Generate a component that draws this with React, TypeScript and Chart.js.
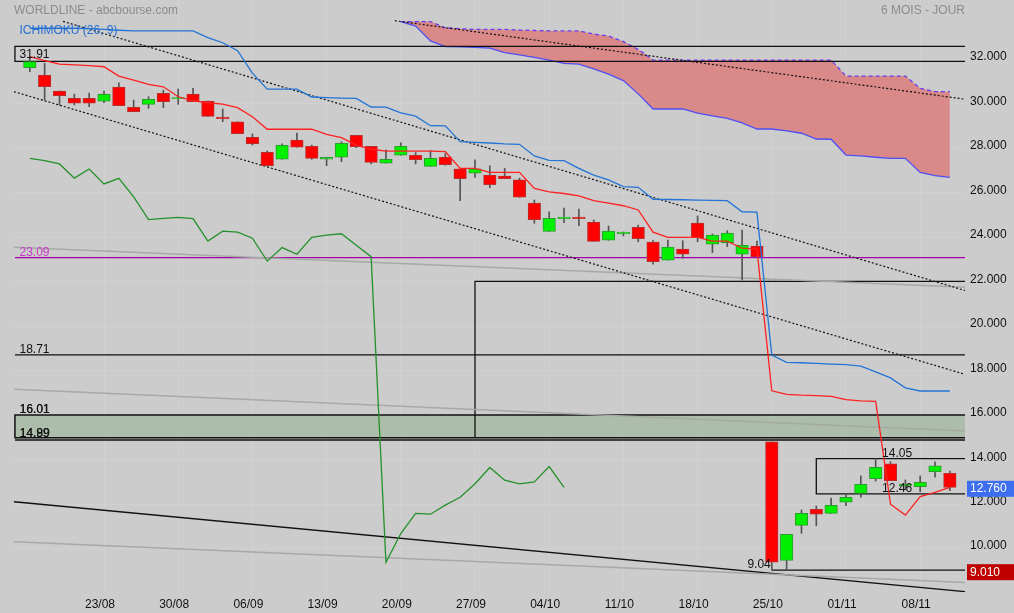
import React, { useEffect, useRef } from 'react';
import { Chart, registerables } from 'chart.js';
Chart.register(...registerables);

// ---------- data ----------
const DATE_LABELS = ['23/08', '30/08', '06/09', '13/09', '20/09', '27/09', '04/10', '11/10', '18/10', '25/10', '01/11', '08/11'];
const DATE_TICK_INDEX = [5, 10, 15, 20, 25, 30, 35, 40, 45, 50, 55, 60];
const PRICE_TICKS = [10, 12, 14, 16, 18, 20, 22, 24, 26, 28, 30, 32];

const OPEN = [31.63, 31.30, 30.58, 30.25, 30.25, 30.12, 30.75, 29.85, 29.98, 30.48, 30.23, 30.44, 30.13, 29.41, 29.19, 28.50, 27.82, 27.51, 28.37, 28.09, 27.51, 27.60, 28.59, 28.09, 27.33, 27.69, 27.69, 27.19, 27.61, 27.08, 26.88, 26.80, 26.75, 26.58, 25.54, 24.27, 24.84, 24.91, 24.68, 23.87, 24.16, 24.45, 23.79, 22.97, 23.47, 24.64, 23.69, 23.76, 23.24, 23.61, 14.80, 9.47, 11.05, 11.77, 11.59, 12.09, 12.49, 13.15, 13.81, 12.82, 12.79, 13.46, 13.39];
const HIGH = [32.09, 31.82, 30.58, 30.44, 30.49, 30.58, 30.95, 30.17, 30.32, 30.62, 30.67, 30.70, 30.13, 29.77, 29.19, 28.65, 27.88, 28.20, 28.69, 28.15, 27.60, 28.30, 28.59, 28.09, 27.93, 28.25, 27.81, 27.89, 27.76, 27.08, 27.48, 27.21, 27.10, 26.66, 25.68, 25.15, 25.32, 25.27, 24.78, 24.51, 24.24, 24.55, 23.85, 23.88, 23.85, 24.96, 24.15, 24.30, 24.33, 23.83, 14.80, 10.65, 11.74, 11.92, 12.27, 12.46, 13.27, 14.05, 13.91, 13.09, 13.27, 13.91, 13.49];
const LOW = [31.45, 30.17, 29.95, 29.95, 29.87, 30.05, 29.92, 29.65, 29.80, 29.83, 29.98, 30.10, 29.44, 29.20, 28.66, 28.15, 27.22, 27.51, 28.05, 27.51, 27.22, 27.40, 28.03, 27.30, 27.33, 27.69, 27.30, 27.19, 27.24, 25.65, 26.69, 26.23, 26.64, 25.80, 24.63, 24.27, 24.66, 24.52, 23.82, 23.87, 24.06, 23.80, 22.79, 22.97, 23.06, 23.80, 23.31, 23.58, 22.08, 23.13, 9.04, 9.07, 10.69, 11.03, 11.59, 11.93, 12.31, 13.04, 13.06, 12.64, 12.56, 13.21, 12.61];
const CLOSE = [31.90, 30.77, 30.37, 30.03, 30.03, 30.43, 29.92, 29.65, 30.21, 30.10, 30.28, 30.10, 29.44, 29.33, 28.66, 28.21, 27.22, 28.14, 28.05, 27.55, 27.60, 28.23, 28.08, 27.37, 27.51, 28.09, 27.49, 27.55, 27.27, 26.64, 27.08, 26.37, 26.64, 25.80, 24.79, 24.85, 24.91, 24.84, 23.82, 24.28, 24.24, 23.94, 22.90, 23.56, 23.24, 23.98, 24.10, 24.19, 23.64, 23.13, 9.39, 10.65, 11.59, 11.55, 11.95, 12.31, 12.89, 13.66, 13.06, 12.91, 12.98, 13.72, 12.76];

const TENKAN = [32.12, 31.95, 31.79, 31.75, 31.72, 31.67, 31.25, 31.07, 30.88, 30.77, 30.32, 30.14, 30.05, 29.99, 29.83, 29.42, 28.86, 28.86, 28.86, 28.86, 28.63, 28.48, 28.15, 27.96, 27.88, 27.88, 27.88, 27.88, 27.85, 27.10, 27.10, 26.92, 26.92, 26.92, 26.20, 26.04, 25.97, 25.86, 25.65, 25.54, 25.42, 25.23, 24.23, 24.00, 24.00, 24.00, 23.83, 23.83, 23.51, 23.47, 17.10, 16.94, 16.90, 16.88, 16.85, 16.70, 16.65, 16.62, 12.00, 11.51, 12.34, 12.53, 12.76];
const KIJUN = [33.40, 33.40, 33.40, 33.40, 33.38, 33.35, 33.31, 33.28, 33.28, 33.28, 33.28, 33.28, 32.98, 32.75, 32.39, 31.38, 30.66, 30.66, 30.66, 30.31, 30.28, 30.26, 30.25, 29.86, 29.85, 29.60, 29.45, 29.02, 29.01, 28.30, 28.27, 28.24, 28.20, 28.18, 27.66, 27.46, 27.45, 27.10, 26.80, 26.58, 26.28, 26.25, 25.71, 25.70, 25.69, 25.67, 25.66, 25.65, 25.15, 25.13, 18.71, 18.38, 18.36, 18.33, 18.30, 18.28, 18.21, 17.95, 17.68, 17.23, 17.09, 17.09, 17.09];
const CHIKOU = [27.55, 27.45, 27.30, 26.66, 27.07, 26.40, 26.65, 25.82, 24.80, 24.85, 24.90, 24.84, 23.83, 24.28, 24.23, 23.96, 22.93, 23.54, 23.24, 24.00, 24.10, 24.16, 23.64, 23.13, 9.39, 10.68, 11.59, 11.55, 11.96, 12.31, 12.92, 13.65, 13.08, 12.91, 13.00, 13.69, 12.76];
const CLOUD_START = 25;
const SPAN_A = [33.70, 33.70, 33.70, 33.42, 33.38, 33.35, 33.35, 33.35, 33.32, 33.30, 33.28, 33.28, 33.28, 33.14, 33.05, 32.80, 32.45, 31.97, 31.97, 31.97, 31.97, 31.97, 31.97, 31.97, 31.97, 31.97, 31.97, 31.97, 31.97, 31.97, 31.25, 31.25, 31.25, 31.25, 31.25, 30.70, 30.55, 30.55];
const SPAN_B = [33.70, 33.50, 32.83, 32.57, 32.56, 32.54, 32.51, 32.30, 32.20, 32.09, 31.97, 31.82, 31.79, 31.57, 31.34, 31.05, 30.45, 29.77, 29.77, 29.77, 29.58, 29.46, 29.35, 29.15, 28.87, 28.87, 28.79, 28.68, 28.42, 28.41, 27.70, 27.66, 27.60, 27.55, 27.55, 26.92, 26.77, 26.70];

// trend lines: [startIndex, startValue, endIndex, endValue]
const CHANNEL_UPPER = [2.24, 33.71, 63.02, 21.61];
const CHANNEL_LOWER = [-1.065, 30.55, 63.02, 17.84];
const CLOUD_TREND = [24.6, 33.74, 63.02, 30.21];
const LONG_GRAY_1 = [-1.065, 23.55, 63.02, 21.76];
const LONG_GRAY_2 = [-1.065, 17.17, 63.02, 15.29];
const LONG_GRAY_3 = [-1.065, 10.31, 63.02, 8.48];
const LONG_BLACK = [-1.065, 12.11, 63.02, 8.07];

// levels
const BOX_TOP = [31.91, 32.59];
const LEVEL_PURPLE = 23.09;
const LEVEL_1871 = 18.71;
const ZONE = [14.99, 16.01];
const ZONE_LOW_2 = 14.89;
const RANGE_BOX = [30, 22.02];
const RECENT_BOX = [53, 12.46, 14.05];
const LOW_LEVEL = [50, 9.04];
const LAST_PRICE = 12.76;
const BADGE_LOW = 9.01;

// ---------- layout constants ----------
const XMIN = -1.065, XMAX = 63.02, YMIN = 8.052, YMAX = 34.671;
const XL = -1.0;
const FONT = '"Liberation Sans", Arial, sans-serif';

const pts = (xs: number[], ys: number[]) => xs.map((x, i) => ({ x, y: ys[i] }));
const seg = (t: number[]) => [{ x: t[0], y: t[1] }, { x: t[2], y: t[3] }];

function lineDs(data: any[], color: string, width: number, order: number, extra: any = {}) {
  return {
    type: 'line', data, borderColor: color, borderWidth: width, pointRadius: 0,
    tension: 0, fill: false, order, ...extra,
  };
}

const zeroPad = (s: any) => { s.paddingTop = 0; s.paddingBottom = 0; s.paddingLeft = 0; s.paddingRight = 0; };

const annotPlugin = {
  id: 'annot',
  afterDatasetsDraw(chart: any) {
    const { ctx } = chart;
    const x = chart.scales.x, y = chart.scales.y;
    ctx.save();
    ctx.font = '12px ' + FONT;
    ctx.textBaseline = 'alphabetic';
    const put = (text: string, px: number, py: number, color: string, align: any = 'left') => {
      ctx.fillStyle = color; ctx.textAlign = align; ctx.fillText(text, px, py);
    };
    put('31.91', 19.5, y.getPixelForValue(BOX_TOP[0]) - 3.8, '#111');
    put('23.09', 19.5, y.getPixelForValue(LEVEL_PURPLE) - 2, '#c838c8');
    put('18.71', 19.5, y.getPixelForValue(LEVEL_1871) - 2, '#111');
    put('16.01', 19.5, y.getPixelForValue(ZONE[1]) - 2, '#111');
    put('16.01', 19.8, y.getPixelForValue(ZONE[1]) - 2, '#111');
    put('14.99', 19.5, y.getPixelForValue(ZONE[0]) - 0.7, '#111');
    put('14.89', 19.8, y.getPixelForValue(ZONE[0]) - 0.7, '#111');
    put('14.05', x.getPixelForValue(57.43), y.getPixelForValue(RECENT_BOX[2]) - 2, '#111');
    put('12.46', x.getPixelForValue(57.43), y.getPixelForValue(RECENT_BOX[1]) - 2, '#111');
    put('9.04', x.getPixelForValue(LOW_LEVEL[0]) - 1, y.getPixelForValue(LOW_LEVEL[1]) - 2, '#111', 'right');
    // headers
    ctx.textBaseline = 'middle';
    put('WORLDLINE - abcbourse.com', 14, 10.5, '#8c8c8c');
    put('6 MOIS - JOUR', 965, 10.5, '#8c8c8c', 'right');
    put('ICHIMOKU (26, 9)', 19.5, 30.5, '#2a6fd0');
    ctx.restore();
  },
  afterDraw(chart: any) {
    const { ctx } = chart;
    const y = chart.scales.y;
    ctx.save();
    ctx.font = '12px ' + FONT;
    ctx.textBaseline = 'middle';
    ctx.textAlign = 'left';
    const badge = (text: string, v: number, bg: string) => {
      const py = y.getPixelForValue(v) + 1.5;
      ctx.fillStyle = bg;
      ctx.fillRect(967, py - 8, 47, 16);
      ctx.fillStyle = '#ffffff';
      ctx.fillText(text, 970, py);
    };
    badge(LAST_PRICE.toFixed(3), LAST_PRICE, '#3d6ef0');
    badge(BADGE_LOW.toFixed(3), BADGE_LOW, '#bf0000');
    ctx.restore();
  },
};

export default function App() {
  const ref = useRef<HTMLCanvasElement | null>(null);
  useEffect(() => {
    if (!ref.current) return;
    const idx = OPEN.map((_, i) => i);
    const up = OPEN.map((o, i) => CLOSE[i] >= o);
    const bodies = idx.map(i => ({ x: i, y: [OPEN[i], CLOSE[i]] }));
    const wicks = idx.map(i => ({ x: i, y: [LOW[i], HIGH[i]] }));
    const cloudX = SPAN_A.map((_, i) => CLOUD_START + i);
    const chikouX = CHIKOU.map((_, i) => i);
    const black = '#111111';
    const grayLine = '#a3aba3';

    const datasets: any[] = [
      lineDs(pts(chikouX, CHIKOU), '#24912a', 1.3, 1),
      lineDs(pts(idx, TENKAN), '#ff2020', 1.3, 2),
      lineDs(pts(idx, KIJUN), '#2274d6', 1.3, 3),
      {
        type: 'bar', data: bodies, order: 4, grouped: false, barThickness: 12.5,
        backgroundColor: up.map(u => (u ? '#00f000' : '#ff0000')),
        borderColor: up.map(u => (u ? '#2f9a2f' : '#b83030')),
        borderWidth: 1, borderSkipped: false,
      },
      {
        type: 'bar', data: wicks, order: 5, grouped: false, barThickness: 1,
        backgroundColor: '#555555', borderWidth: 0,
      },
      lineDs(seg(CHANNEL_UPPER), black, 1.2, 8, { borderDash: [2, 2] }),
      lineDs(seg(CHANNEL_LOWER), black, 1.2, 8, { borderDash: [2, 2] }),
      lineDs(seg(CLOUD_TREND), black, 1.2, 8, { borderDash: [2, 2] }),
      lineDs(seg(LONG_GRAY_1), grayLine, 1.5, 9),
      lineDs(seg(LONG_GRAY_2), grayLine, 1.5, 9),
      lineDs(seg(LONG_GRAY_3), grayLine, 1.5, 9),
      lineDs(seg(LONG_BLACK), black, 1.4, 9),
      lineDs([{ x: XMAX, y: BOX_TOP[1] }, { x: XL, y: BOX_TOP[1] }, { x: XL, y: BOX_TOP[0] }, { x: XMAX, y: BOX_TOP[0] }], black, 1.3, 10),
      lineDs([{ x: XL, y: LEVEL_PURPLE }, { x: XMAX, y: LEVEL_PURPLE }], '#a800a8', 1.3, 10),
      lineDs([{ x: XL, y: LEVEL_1871 }, { x: XMAX, y: LEVEL_1871 }], black, 1.3, 10),
      lineDs([{ x: XMAX, y: ZONE[1] }, { x: XL, y: ZONE[1] }, { x: XL, y: ZONE[0] }, { x: XMAX, y: ZONE[0] }], black, 1.5, 10),
      lineDs([{ x: XL, y: ZONE_LOW_2 }, { x: XMAX, y: ZONE_LOW_2 }], black, 1.5, 10),
      lineDs([{ x: XMAX, y: RANGE_BOX[1] }, { x: RANGE_BOX[0], y: RANGE_BOX[1] }, { x: RANGE_BOX[0], y: ZONE[0] }], black, 1.3, 10),
      lineDs([{ x: XMAX, y: RECENT_BOX[2] }, { x: RECENT_BOX[0], y: RECENT_BOX[2] }, { x: RECENT_BOX[0], y: RECENT_BOX[1] }, { x: XMAX, y: RECENT_BOX[1] }], black, 1.3, 10),
      lineDs([{ x: LOW_LEVEL[0], y: LOW_LEVEL[1] }, { x: XMAX, y: LOW_LEVEL[1] }], black, 1.3, 10),
      // cloud
      lineDs(pts(cloudX, SPAN_A), '#6a3df0', 1.3, 30, { borderDash: [4, 3], fill: '+1', backgroundColor: 'rgba(226,96,96,0.62)' }),
      lineDs(pts(cloudX, SPAN_B), '#4f4ff5', 1.3, 29),
      // zone fill
      lineDs([{ x: XMIN, y: ZONE[1] }, { x: XMAX, y: ZONE[1] }], 'rgba(0,0,0,0)', 0, 40, { fill: '+1', backgroundColor: 'rgba(115,161,110,0.35)' }),
      lineDs([{ x: XMIN, y: ZONE[0] }, { x: XMAX, y: ZONE[0] }], 'rgba(0,0,0,0)', 0, 39),
    ];

    const chart = new Chart(ref.current, {
      type: 'line',
      data: { datasets },
      options: {
        responsive: false,
        animation: false,
        devicePixelRatio: 1,
        layout: { padding: { left: 14, top: 0, right: 0, bottom: 0 } },
        plugins: { legend: { display: false }, tooltip: { enabled: false } },
        scales: {
          x: {
            type: 'linear', min: XMIN, max: XMAX, offset: false,
            grid: { color: 'rgba(255,255,255,0.1)', drawTicks: false, offset: false },
            border: { display: false },
            afterBuildTicks: (s: any) => { s.ticks = DATE_TICK_INDEX.map(v => ({ value: v })); },
            afterFit: (s: any) => { s.height = 21; zeroPad(s); },
            ticks: {
              padding: 5, labelOffset: -4, color: '#111', maxRotation: 0, autoSkip: false,
              font: { size: 12, family: FONT },
              callback: (v: any) => DATE_LABELS[DATE_TICK_INDEX.indexOf(Number(v))] ?? '',
            },
          },
          y: {
            type: 'linear', position: 'right', min: YMIN, max: YMAX,
            grid: { color: 'rgba(255,255,255,0.1)', drawTicks: false },
            border: { display: false },
            afterBuildTicks: (s: any) => { s.ticks = PRICE_TICKS.map(v => ({ value: v })); },
            afterFit: (s: any) => { s.width = 49; zeroPad(s); },
            ticks: {
              padding: 5, labelOffset: -2.5, color: '#111',
              font: { size: 12, family: FONT },
              callback: (v: any) => Number(v).toFixed(3),
            },
          },
        },
      } as any,
      plugins: [annotPlugin],
    } as any);
    return () => chart.destroy();
  }, []);

  return (
    <div style={{ position: 'fixed', left: 0, top: 0, width: 1014, height: 613, background: '#cccccc' }}>
      <canvas ref={ref} width={1014} height={613} style={{ display: 'block', width: 1014, height: 613 }} />
    </div>
  );
}
